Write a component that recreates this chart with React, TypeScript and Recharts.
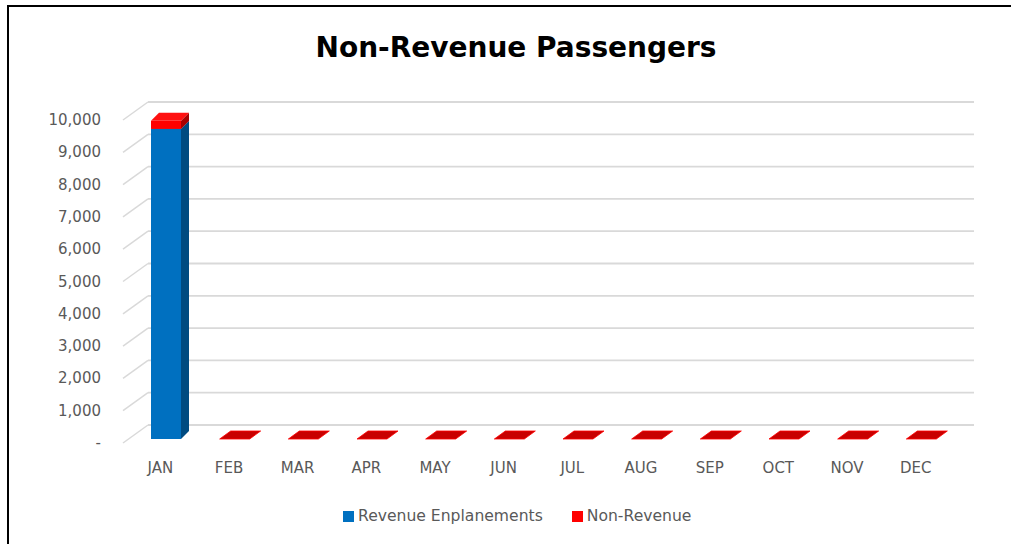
import React from "react";
import { BarChart, Bar, XAxis, YAxis, CartesianGrid } from "recharts";

const months = ["JAN", "FEB", "MAR", "APR", "MAY", "JUN", "JUL", "AUG", "SEP", "OCT", "NOV", "DEC"];
const revenueEnplanements = [9600, 0, 0, 0, 0, 0, 0, 0, 0, 0, 0, 0];
const nonRevenue = [250, 0, 0, 0, 0, 0, 0, 0, 0, 0, 0, 0];
const yTicks = [0, 1000, 2000, 3000, 4000, 5000, 6000, 7000, 8000, 9000, 10000];
const seriesNames = ["Revenue Enplanements", "Non-Revenue"];
const seriesColors = ["#0070C0", "#FF0000"];
const title = "Non-Revenue Passengers";

const data = months.map((m, i) => ({
  month: m,
  revenue: revenueEnplanements[i],
  nonrev: nonRevenue[i],
}));

const FONT = "'DejaVu Sans', sans-serif";
const TEXT = "#595959";
const GRID = "#D9D9D9";
const DX = 8;
const DY = 8;
const SHIFT = 6;

const fmt = (v: number) => (v === 0 ? "-" : v.toLocaleString("en-US"));

function makeShape(front: string, side: string, top: string, drawFlat: boolean) {
  return (props: any) => {
    const { x, y, width, height } = props;
    if (x == null || y == null) return <g />;
    const bx = x + SHIFT;
    const w = width;
    const h = Math.abs(height || 0);
    if (h < 0.5) {
      if (!drawFlat) return <g />;
      const yb = y + (height || 0);
      return (
        <polygon
          points={`${bx},${yb} ${bx + DX + 3},${yb - DY} ${bx + w + DX + 3},${yb - DY} ${bx + w},${yb}`}
          fill="#C80000"
          stroke="#FF0000"
          strokeWidth={0.8}
        />
      );
    }
    return (
      <g>
        <polygon
          points={`${bx + w},${y} ${bx + w + DX},${y - DY} ${bx + w + DX},${y + h - DY} ${bx + w},${y + h}`}
          fill={side}
        />
        <polygon
          points={`${bx},${y} ${bx + DX},${y - DY} ${bx + w + DX},${y - DY} ${bx + w},${y}`}
          fill={top}
        />
        <rect x={bx} y={y} width={w} height={h} fill={front} />
      </g>
    );
  };
}

const blueShape = makeShape("#0070C0", "#004B80", "#1A82CC", false);
const redShape = makeShape("#FF0000", "#A80000", "#FF1010", true);

const gridLine = (props: any) => {
  const { x1, x2, y1, key } = props;
  const y = y1;
  return (
    <g key={key}>
      <line x1={x1 - 3} y1={y + 4} x2={x1 + 22} y2={y - 14} stroke={GRID} strokeWidth={1.5} />
      <line x1={x1 + 22} y1={y - 14} x2={x2 + 24} y2={y - 14} stroke={GRID} strokeWidth={1.8} />
    </g>
  );
};

const YTick = (props: any) => {
  const { y, payload } = props;
  return (
    <text x={101} y={y + 4} textAnchor="end" dominantBaseline="central" fill={TEXT} fontSize={15} fontFamily={FONT}>
      {fmt(payload.value)}
    </text>
  );
};

const XTick = (props: any) => {
  const { x, y, payload } = props;
  return (
    <text x={x} y={y + 29} textAnchor="middle" dominantBaseline="central" fill={TEXT} fontSize={15} fontFamily={FONT}>
      {payload.value}
    </text>
  );
};

export default function App() {
  return (
    <div style={{ position: "absolute", left: 0, top: 0, width: 1011, height: 544, overflow: "hidden", background: "#fff" }}>
      <div
        style={{
          position: "absolute",
          left: 7,
          top: 5,
          width: 1100,
          height: 700,
          border: "2px solid #000",
          boxSizing: "border-box",
        }}
      />
      <div
        style={{
          position: "absolute",
          left: 0,
          top: 31,
          width: 1032,
          textAlign: "center",
          fontFamily: FONT,
          fontWeight: "bold",
          fontSize: 28,
          lineHeight: "34px",
          color: "#000",
          whiteSpace: "nowrap",
        }}
      >
        {title}
      </div>
      <div style={{ position: "absolute", left: 0, top: 0 }}>
        <BarChart
          width={1011}
          height={544}
          data={data}
          margin={{ top: 116, right: 61, bottom: 75, left: 66 }}
          barSize={30}
        >
          <CartesianGrid vertical={false} horizontal={gridLine as any} stroke={GRID} />
          <XAxis
            dataKey="month"
            axisLine={false}
            tickLine={false}
            tickSize={0}
            tickMargin={0}
            height={30}
            interval={0}
            tick={XTick}
          />
          <YAxis
            width={60}
            domain={[0, 10000]}
            ticks={yTicks}
            axisLine={false}
            tickLine={false}
            tick={YTick}
            interval={0}
          />
          <Bar dataKey="revenue" stackId="a" fill={seriesColors[0]} isAnimationActive={false} shape={blueShape} />
          <Bar dataKey="nonrev" stackId="a" fill={seriesColors[1]} isAnimationActive={false} shape={redShape} />
        </BarChart>
      </div>
      <div
        style={{
          position: "absolute",
          left: 343,
          top: 505,
          display: "flex",
          alignItems: "center",
          fontFamily: FONT,
          fontSize: 15.6,
          color: TEXT,
          whiteSpace: "nowrap",
          lineHeight: "22px",
        }}
      >
        {seriesNames.map((n, i) => (
          <div key={n} style={{ display: "flex", alignItems: "center", marginRight: 29 }}>
            <div style={{ width: 11, height: 11, background: seriesColors[i], marginRight: 4 }} />
            <span>{n}</span>
          </div>
        ))}
      </div>
    </div>
  );
}
